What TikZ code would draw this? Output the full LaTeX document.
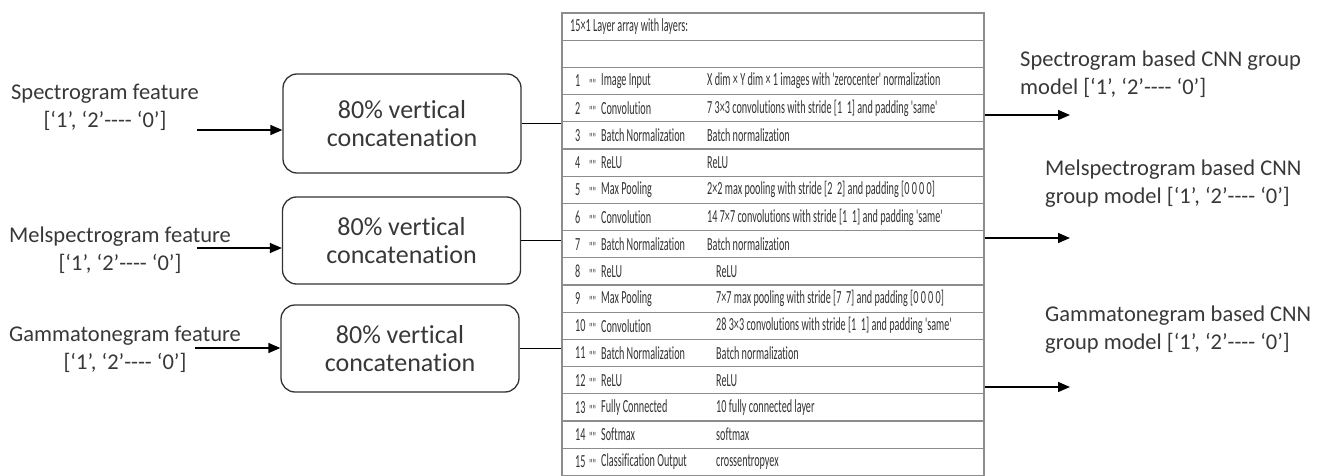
\documentclass[tikz,border=0pt]{standalone}
\usepackage{fontspec}
\setmainfont{Carlito}[RawFeature=-liga]
\newfontfamily\tabfont[FakeStretch=0.55, RawFeature=-liga]{Carlito}
\usepackage{xcolor}
\usepackage{tikz}
\usetikzlibrary{arrows.meta, positioning}
\newcommand{\grp}{[‘1’, ‘2’-{}-{}-{}- ‘0’]}
\tikzset{
  lbl/.style={align=center, text=black!78, inner sep=0pt,
              font=\fontsize{22.5}{28}\selectfont},
  outlbl/.style={lbl, align=left, anchor=west},
  concat/.style={rectangle, rounded corners=14pt, line width=1.3pt, draw=black!80,
                 align=center, text=black!78, minimum width=238pt, minimum height=87pt,
                 font=\fontsize{26}{28.5}\selectfont},
  arrbox/.style={rectangle, draw=black!45, line width=1.1pt, inner sep=0pt,
                 minimum width=422pt, minimum height=462.4pt},
  rowline/.style={draw=black!45, line width=1.1pt},
  cell/.style={anchor=west, inner sep=0pt, text=black!80,
               font=\tabfont\fontsize{18.5}{18.5}\selectfont},
  pipe/.style={-{Triangle[length=12pt, width=10pt]}, line width=1.4pt, draw=black},
  link/.style={line width=1.4pt, draw=black},
}
\begin{document}
\begin{tikzpicture}[x=1pt, y=-1pt]
  \useasboundingbox (0,0) rectangle (1322,476);
  % feature inputs
  \node[lbl] (spec) at (105,107) {Spectrogram feature\\\grp};
  \node[lbl] (mel)  at (120,250) {Melspectrogram feature\\\grp};
  \node[lbl] (gam)  at (125,349) {Gammatonegram feature\\\grp};
  % concatenation blocks
  \node[concat, minimum height=99pt] (cat1) at (402,123.5) {80\% vertical\\concatenation};
  \node[concat] (cat2) at (401.5,240.5) {80\% vertical\\concatenation};
  \node[concat] (cat3) at (400,348.5) {80\% vertical\\concatenation};
  % layer array
  \node[arrbox] (arr) at (773,244.2) {};
  \foreach \k in {1,...,16}
    \draw[rowline] (562,13+27.2*\k) -- (984,13+27.2*\k);
  \node[cell] (hdr) at (570,26.6) {15×1 Layer array with layers:};
  \foreach \n/\nm/\ds in {
      1/Image Input/{X dim × Y dim × 1 images with 'zerocenter' normalization},
      2/Convolution/{7 3×3 convolutions with stride [1\ \ 1] and padding 'same'},
      3/Batch Normalization/{Batch normalization},
      4/ReLU/{ReLU},
      5/Max Pooling/{2×2 max pooling with stride [2\ \ 2] and padding [0 0 0 0]},
      6/Convolution/{14 7×7 convolutions with stride [1\ \ 1] and padding 'same'},
      7/Batch Normalization/{Batch normalization},
      8/ReLU/{ReLU},
      9/Max Pooling/{7×7 max pooling with stride [7\ \ 7] and padding [0 0 0 0]},
      10/Convolution/{28 3×3 convolutions with stride [1\ \ 1] and padding 'same'},
      11/Batch Normalization/{Batch normalization},
      12/ReLU/{ReLU},
      13/Fully Connected/{10 fully connected layer},
      14/Softmax/{softmax},
      15/Classification Output/{crossentropyex}} {
    \pgfmathsetmacro{\dx}{\n<8 ? 707 : 716}
    \node[cell] (num\n) at (575,53.8+27.2*\n) {\n};
    \node[cell, font=\tabfont\fontsize{15}{15}\selectfont, yshift=-3pt] at (589,53.8+27.2*\n) {""};
    \node[cell] (nm\n) at (601,53.8+27.2*\n) {\nm};
    \node[cell] (ds\n) at (\dx,53.8+27.2*\n) {\ds};
  }
  % group model outputs
  \node[outlbl] (out1) at (1020,74)  {Spectrogram based CNN group\\model \grp};
  \node[outlbl] (out2) at (1045,184) {Melspectrogram based CNN\\group model \grp};
  \node[outlbl] (out3) at (1045,330) {Gammatonegram based CNN\\group model \grp};
  % connectors
  \coordinate (i1) at (197,130);
  \coordinate (i2) at (197,248);
  \coordinate (i3) at (195,348);
  \draw[pipe] (i1) -- (i1 -| cat1.west);
  \draw[pipe] (i2) -- (i2 -| cat2.west);
  \draw[pipe] (i3) -- (i3 -| cat3.west);
  \draw[link] (cat1.east) -- (cat1.east -| arr.west);
  \draw[link] (cat2.east) -- (cat2.east -| arr.west);
  \draw[link] (cat3.east) -- (cat3.east -| arr.west);
  \coordinate (o1) at (1070,115);
  \coordinate (o2) at (1070,238);
  \coordinate (o3) at (1070,387);
  \draw[pipe] (o1 -| arr.east) -- (o1);
  \draw[pipe] (o2 -| arr.east) -- (o2);
  \draw[pipe] (o3 -| arr.east) -- (o3);
\end{tikzpicture}
\end{document}
